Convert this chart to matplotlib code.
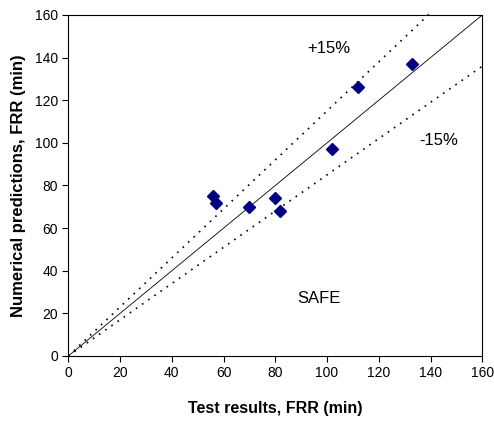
import matplotlib
matplotlib.use("Agg")
import matplotlib.pyplot as plt
import numpy as np

plt.rcParams['font.family'] = ['Liberation Sans', 'DejaVu Sans']

# Fire resistance rating: test vs. numerical prediction (minutes)
test_frr = [56, 57, 70, 80, 82, 102, 112, 133]
pred_frr = [75, 72, 70, 74, 68, 97, 126, 137]
ticks = [0, 20, 40, 60, 80, 100, 120, 140, 160]

fig = plt.figure(figsize=(4.94, 4.22), dpi=100)
ax = fig.add_axes([0.1383, 0.1564, 0.8380, 0.8081])

# 1:1 line and +/-15% bounds
ax.plot([0, 160], [0, 160], color='black', lw=0.6)
ax.plot([0, 141], [0, 141 * 1.15], color='black', lw=1.2, ls=(0, (1, 3.5)), clip_on=False)
ax.plot([0, 160], [0, 160 * 0.85], color='black', lw=1.2, ls=(0, (1, 3.5)))

ax.plot(test_frr, pred_frr, ls='none', marker='D', color='#000080', markersize=6.5, zorder=3)

ax.text(92.5, 142, '+15%', fontsize=12)
ax.text(135.5, 99, '-15%', fontsize=12)
ax.text(88.5, 25, 'SAFE', fontsize=12)

ax.set_xlim(0, 160)
ax.set_ylim(0, 160)
ax.set_xticks(ticks)
ax.set_yticks(ticks)
ax.tick_params(direction='out', length=4, width=0.8, labelsize=10)
for s in ax.spines.values():
    s.set_linewidth(0.8)

ax.set_xlabel('Test results, FRR (min)', fontsize=11.5, fontweight='bold', labelpad=15)
ax.set_ylabel('Numerical predictions, FRR (min)', fontsize=12, fontweight='bold', labelpad=6)

fig.savefig('out.png', dpi=100)
